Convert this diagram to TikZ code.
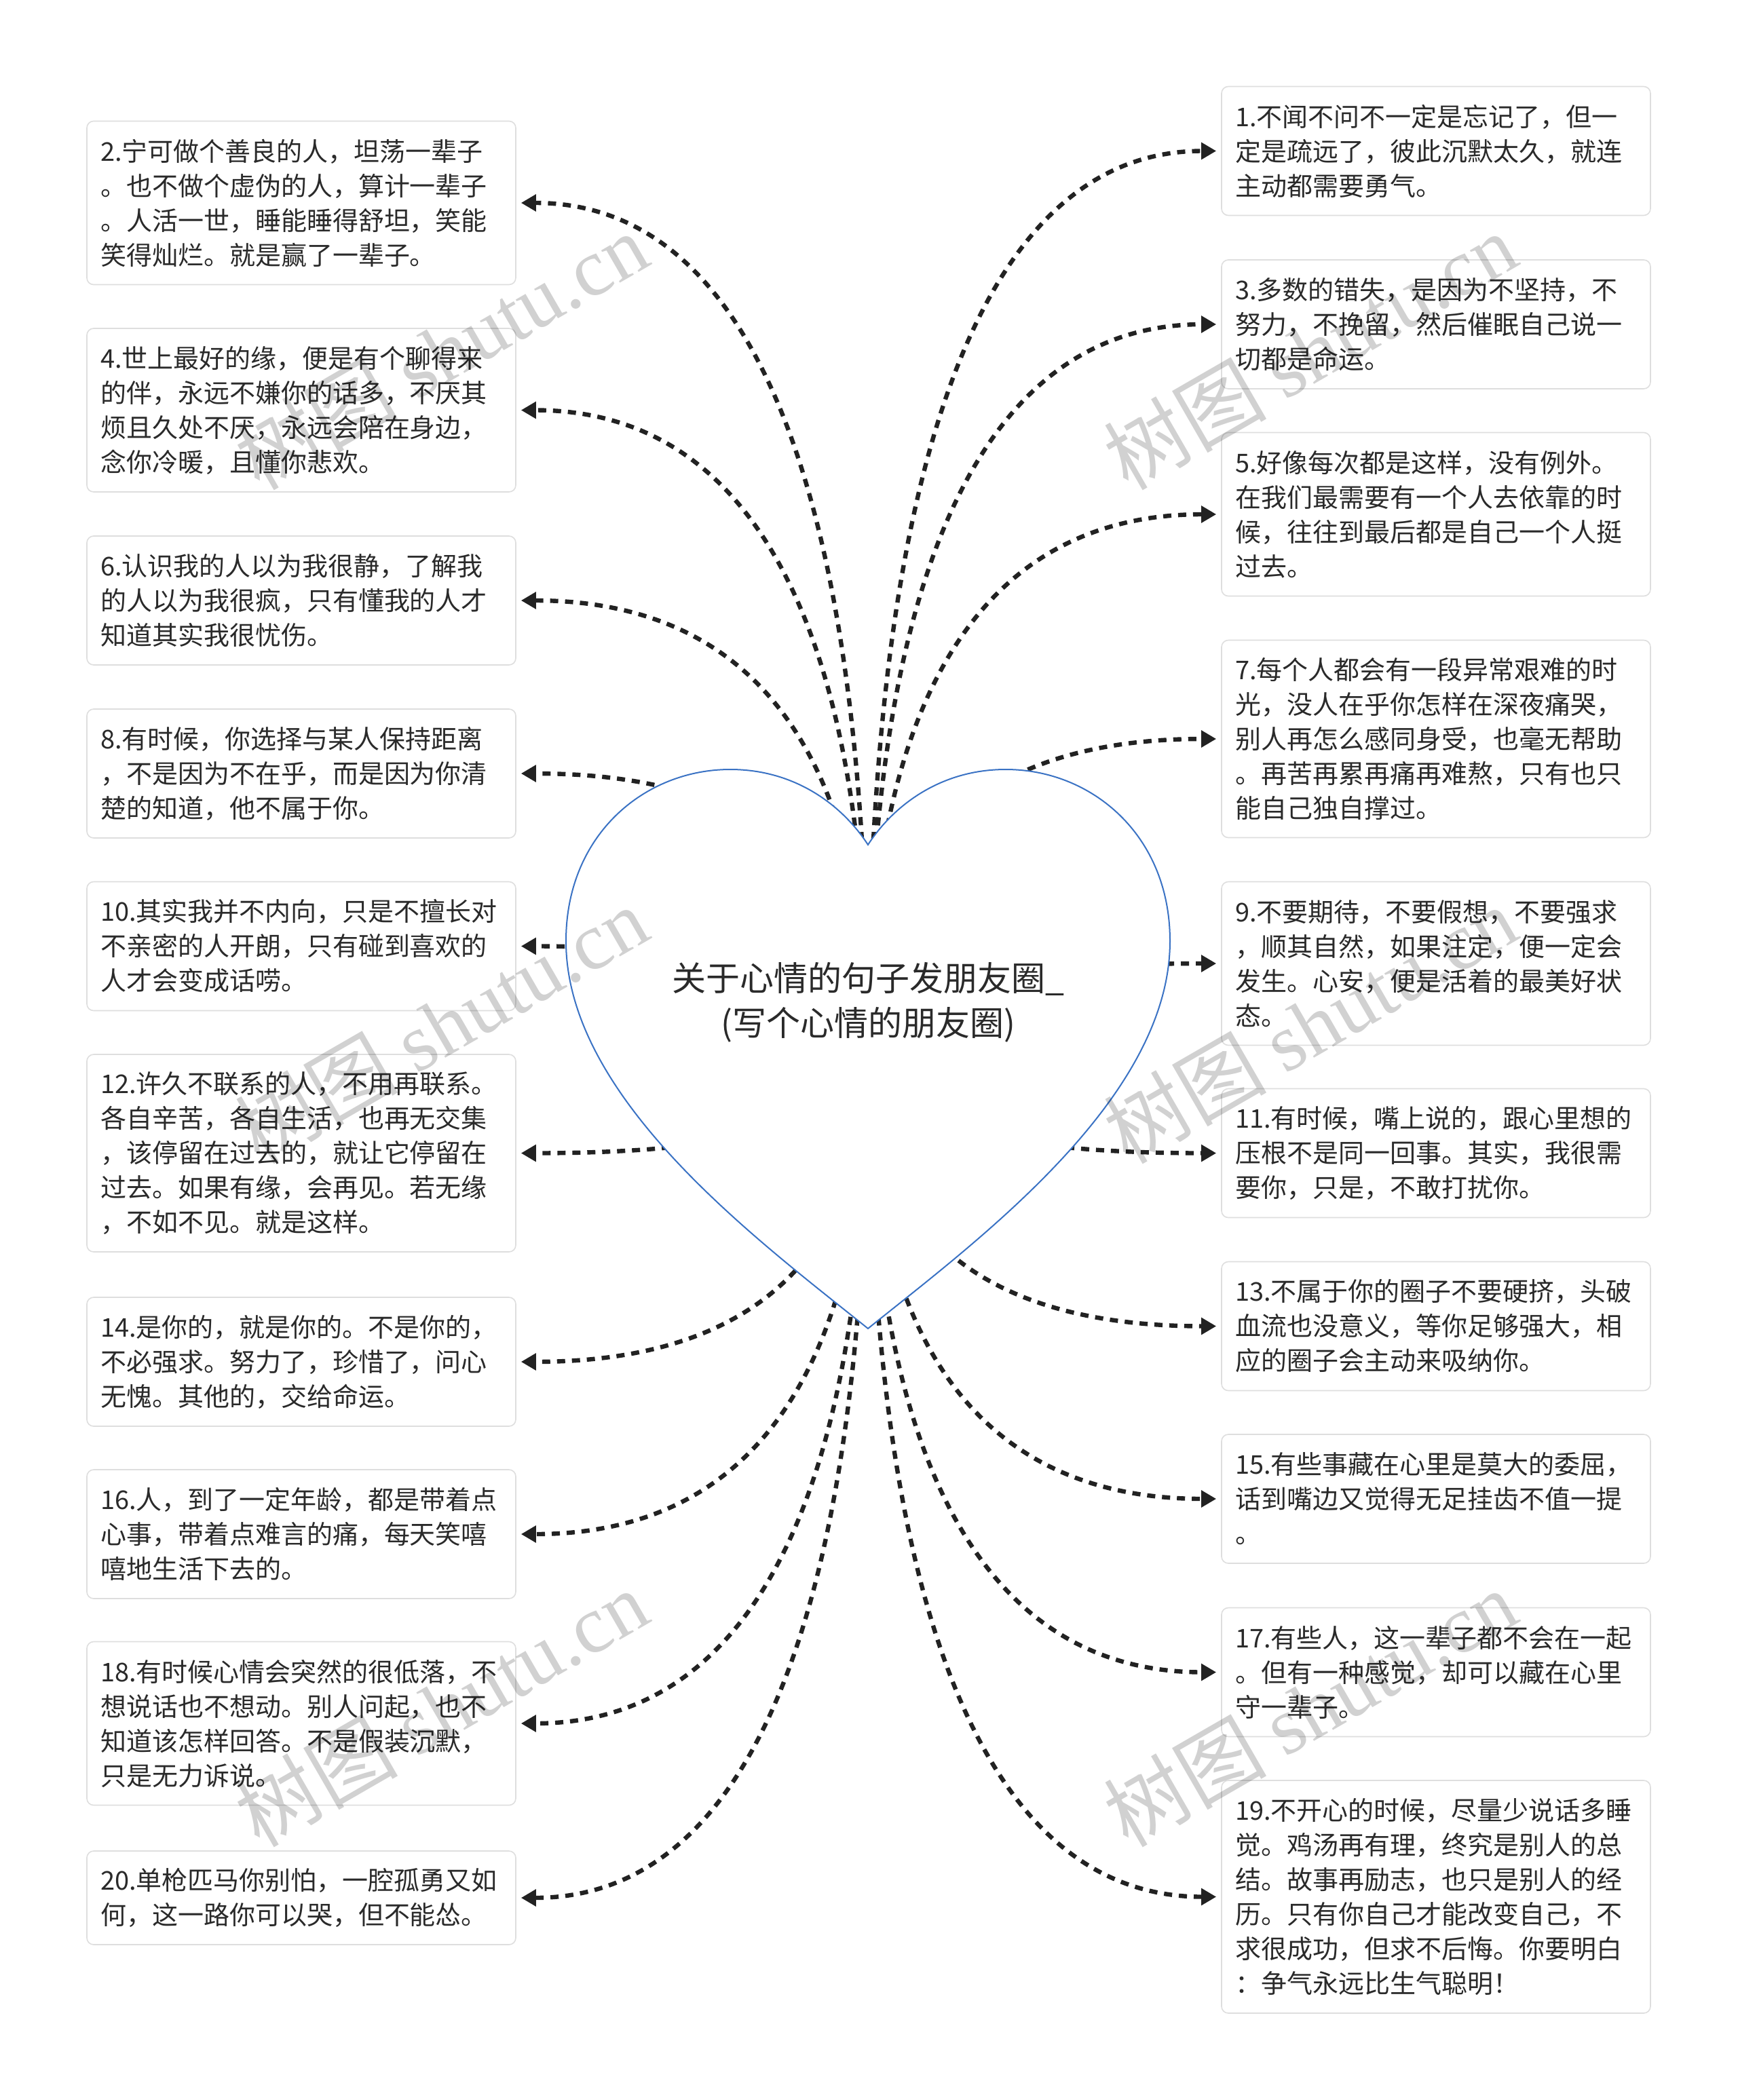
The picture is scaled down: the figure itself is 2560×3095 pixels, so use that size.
\documentclass[tikz,border=0pt]{standalone}
\usepackage{fontspec}
\setmainfont{Noto Sans CJK SC}
\newfontfamily\wmlatin{Liberation Serif}
\usetikzlibrary{arrows.meta,calc}
\definecolor{linec}{HTML}{222222}
\definecolor{boxline}{HTML}{DEDEDE}
\definecolor{heartblue}{HTML}{3A72C4}
\definecolor{txt}{HTML}{2A2A2A}
\begin{document}
\begin{tikzpicture}[x=0.5pt,y=-0.5pt,
  box/.style={draw=boxline, line width=0.8pt, rounded corners=5pt, fill=white,
    text=txt, align=left, text width=296pt, inner xsep=10pt, inner ysep=0pt,
    font=\fontsize{19pt}{25.5pt}\selectfont, anchor=center},
  lthree/.style={box, minimum height=95pt},
  lfour/.style={box, minimum height=120.5pt},
  lfive/.style={box, minimum height=145.5pt},
  ltwo/.style={box, minimum height=69pt},
  lsix/.style={box, minimum height=171.5pt},
  conn/.style={draw=linec, line width=3.2pt, dash pattern=on 6pt off 5pt,
    -{Triangle[length=11pt,width=12pt]}, shorten >=3.5pt},
  titlestyle/.style={text=txt, align=center, font=\fontsize{25pt}{33pt}\selectfont},
  wm/.style={rotate=30, text=black, text opacity=0.18, font=\fontsize{60pt}{60pt}\selectfont}
]
\fill[white] (0,0) rectangle (2560,3095);
\useasboundingbox (0,0) rectangle (2560,3095);

% left column
\node[lfour] (b2) at (444,299) {2.宁可做个善良的人，坦荡一辈子\\。也不做个虚伪的人，算计一辈子\\。人活一世，睡能睡得舒坦，笑能\\笑得灿烂。就是赢了一辈子。};
\node[lfour] (b4) at (444,604.5) {4.世上最好的缘，便是有个聊得来\\的伴，永远不嫌你的话多，不厌其\\烦且久处不厌，永远会陪在身边，\\念你冷暖，且懂你悲欢。};
\node[lthree] (b6) at (444,885) {6.认识我的人以为我很静，了解我\\的人以为我很疯，只有懂我的人才\\知道其实我很忧伤。};
\node[lthree] (b8) at (444,1140) {8.有时候，你选择与某人保持距离\\，不是因为不在乎，而是因为你清\\楚的知道，他不属于你。};
\node[lthree] (b10) at (444,1394.5) {10.其实我并不内向，只是不擅长对\\不亲密的人开朗，只有碰到喜欢的\\人才会变成话唠。};
\node[lfive] (b12) at (444,1699.5) {12.许久不联系的人，不用再联系。\\各自辛苦，各自生活，也再无交集\\，该停留在过去的，就让它停留在\\过去。如果有缘，会再见。若无缘\\，不如不见。就是这样。};
\node[lthree] (b14) at (444,2007) {14.是你的，就是你的。不是你的，\\不必强求。努力了，珍惜了，问心\\无愧。其他的，交给命运。};
\node[lthree] (b16) at (444,2261) {16.人，到了一定年龄，都是带着点\\心事，带着点难言的痛，每天笑嘻\\嘻地生活下去的。};
\node[lfour] (b18) at (444,2540) {18.有时候心情会突然的很低落，不\\想说话也不想动。别人问起，也不\\知道该怎样回答。不是假装沉默，\\只是无力诉说。};
\node[ltwo] (b20) at (444,2797) {20.单枪匹马你别怕，一腔孤勇又如\\何，这一路你可以哭，但不能怂。};

% right column
\node[lthree] (b1) at (2116,222.5) {1.不闻不问不一定是忘记了，但一\\定是疏远了，彼此沉默太久，就连\\主动都需要勇气。};
\node[lthree] (b3) at (2116,478) {3.多数的错失，是因为不坚持，不\\努力，不挽留，然后催眠自己说一\\切都是命运。};
\node[lfour] (b5) at (2116,758) {5.好像每次都是这样，没有例外。\\在我们最需要有一个人去依靠的时\\候，往往到最后都是自己一个人挺\\过去。};
\node[lfive] (b7) at (2116,1089) {7.每个人都会有一段异常艰难的时\\光，没人在乎你怎样在深夜痛哭，\\别人再怎么感同身受，也毫无帮助\\。再苦再累再痛再难熬，只有也只\\能自己独自撑过。};
\node[lfour] (b9) at (2116,1420) {9.不要期待，不要假想，不要强求\\，顺其自然，如果注定，便一定会\\发生。心安，便是活着的最美好状\\态。};
\node[lthree] (b11) at (2116,1699.5) {11.有时候，嘴上说的，跟心里想的\\压根不是同一回事。其实，我很需\\要你，只是，不敢打扰你。};
\node[lthree] (b13) at (2116,1954.5) {13.不属于你的圈子不要硬挤，头破\\血流也没意义，等你足够强大，相\\应的圈子会主动来吸纳你。};
\node[lthree] (b15) at (2116,2209) {15.有些事藏在心里是莫大的委屈，\\话到嘴边又觉得无足挂齿不值一提\\。};
\node[lthree] (b17) at (2116,2464.5) {17.有些人，这一辈子都不会在一起\\。但有一种感觉，却可以藏在心里\\守一辈子。};
\node[lsix] (b19) at (2116,2795.5) {19.不开心的时候，尽量少说话多睡\\觉。鸡汤再有理，终究是别人的总\\结。故事再励志，也只是别人的经\\历。只有你自己才能改变自己，不\\求很成功，但求不后悔。你要明白\\：争气永远比生气聪明！};

% connectors from the heart centre
\coordinate (hc) at (1279,1546);
\foreach \b in {2,4,6,8,10,12,14,16,18,20}
  \draw[conn] (hc) .. controls ($(hc)!0.6667!(hc|-b\b.east)$) and ($(b\b.east)!0.6667!(hc|-b\b.east)$) .. (b\b.east);
\foreach \b in {1,3,5,7,9,11,13,15,17,19}
  \draw[conn] (hc) .. controls ($(hc)!0.6667!(hc|-b\b.west)$) and ($(b\b.west)!0.6667!(hc|-b\b.west)$) .. (b\b.west);

% heart
\path[fill=white, draw=heartblue, line width=1pt]
  (1279,1958) .. controls (1120,1830) and (834,1620) .. (834,1387)
  .. controls (834,1230) and (950,1134) .. (1076,1134)
  .. controls (1170,1134) and (1240,1185) .. (1279,1245)
  .. controls (1318,1185) and (1388,1134) .. (1482,1134)
  .. controls (1608,1134) and (1724,1230) .. (1724,1387)
  .. controls (1724,1620) and (1438,1830) .. (1279,1958) -- cycle;
\node[titlestyle] (title) at (1279,1477) {关于心情的句子发朋友圈\textunderscore\\(写个心情的朋友圈)};

% watermarks
\foreach \wx/\wy [count=\i] in {650/517, 1930/517, 650/1510, 1930/1510, 650/2517, 1930/2517}
  \node[wm] (wm\i) at (\wx,\wy) {树图 {\wmlatin shutu.cn}};
\end{tikzpicture}
\end{document}
